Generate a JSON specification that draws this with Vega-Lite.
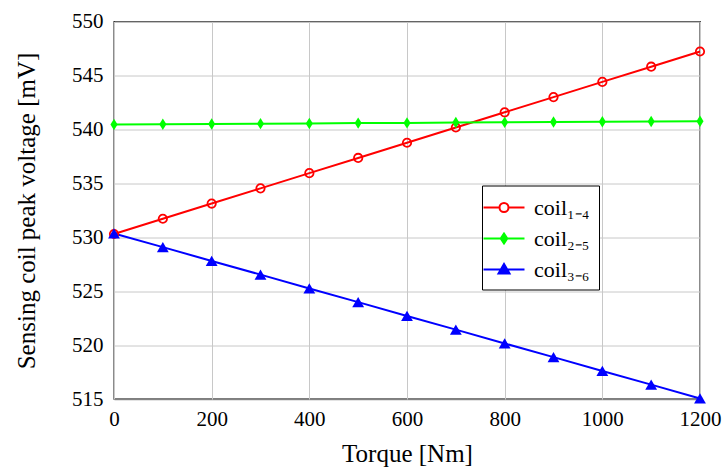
{
  "$schema": "https://vega.github.io/schema/vega-lite/v6.json",
  "width": 586,
  "height": 377.5,
  "autosize": {"type": "none"},
  "padding": {"left": 114, "top": 21.5, "right": 26, "bottom": 69},
  "background": "white",
  "config": {
    "font": "Liberation Serif",
    "view": {"stroke": "black", "strokeWidth": 1.3},
    "axis": {
      "gridColor": "#c8c8c8",
      "gridWidth": 1,
      "domain": false,
      "ticks": false,
      "labelColor": "black",
      "labelFlush": false,
      "labelOverlap": false,
      "titleFont": "Liberation Serif",
      "titleFontSize": 25,
      "titleFontWeight": "normal",
      "titleColor": "black"
    }
  },
  "data": {
    "values": [
      {"series": "coil₁₋₄", "torque": 0, "voltage": 530.3},
      {"series": "coil₁₋₄", "torque": 100, "voltage": 531.71},
      {"series": "coil₁₋₄", "torque": 200, "voltage": 533.12},
      {"series": "coil₁₋₄", "torque": 300, "voltage": 534.53},
      {"series": "coil₁₋₄", "torque": 400, "voltage": 535.94},
      {"series": "coil₁₋₄", "torque": 500, "voltage": 537.35},
      {"series": "coil₁₋₄", "torque": 600, "voltage": 538.76},
      {"series": "coil₁₋₄", "torque": 700, "voltage": 540.17},
      {"series": "coil₁₋₄", "torque": 800, "voltage": 541.58},
      {"series": "coil₁₋₄", "torque": 900, "voltage": 542.99},
      {"series": "coil₁₋₄", "torque": 1000, "voltage": 544.4},
      {"series": "coil₁₋₄", "torque": 1100, "voltage": 545.81},
      {"series": "coil₁₋₄", "torque": 1200, "voltage": 547.22},
      {"series": "coil₂₋₅", "torque": 0, "voltage": 540.45},
      {"series": "coil₂₋₅", "torque": 100, "voltage": 540.48},
      {"series": "coil₂₋₅", "torque": 200, "voltage": 540.5},
      {"series": "coil₂₋₅", "torque": 300, "voltage": 540.53},
      {"series": "coil₂₋₅", "torque": 400, "voltage": 540.55},
      {"series": "coil₂₋₅", "torque": 500, "voltage": 540.58},
      {"series": "coil₂₋₅", "torque": 600, "voltage": 540.6},
      {"series": "coil₂₋₅", "torque": 700, "voltage": 540.63},
      {"series": "coil₂₋₅", "torque": 800, "voltage": 540.65},
      {"series": "coil₂₋₅", "torque": 900, "voltage": 540.68},
      {"series": "coil₂₋₅", "torque": 1000, "voltage": 540.7},
      {"series": "coil₂₋₅", "torque": 1100, "voltage": 540.73},
      {"series": "coil₂₋₅", "torque": 1200, "voltage": 540.75},
      {"series": "coil₃₋₆", "torque": 0, "voltage": 530.35},
      {"series": "coil₃₋₆", "torque": 100, "voltage": 529.08},
      {"series": "coil₃₋₆", "torque": 200, "voltage": 527.8},
      {"series": "coil₃₋₆", "torque": 300, "voltage": 526.53},
      {"series": "coil₃₋₆", "torque": 400, "voltage": 525.25},
      {"series": "coil₃₋₆", "torque": 500, "voltage": 523.98},
      {"series": "coil₃₋₆", "torque": 600, "voltage": 522.7},
      {"series": "coil₃₋₆", "torque": 700, "voltage": 521.43},
      {"series": "coil₃₋₆", "torque": 800, "voltage": 520.15},
      {"series": "coil₃₋₆", "torque": 900, "voltage": 518.88},
      {"series": "coil₃₋₆", "torque": 1000, "voltage": 517.6},
      {"series": "coil₃₋₆", "torque": 1100, "voltage": 516.33},
      {"series": "coil₃₋₆", "torque": 1200, "voltage": 515.05}
    ]
  },
  "encoding": {
    "x": {
      "field": "torque",
      "type": "quantitative",
      "scale": {"domain": [0, 1200], "nice": false, "zero": false},
      "axis": {
        "values": [0, 200, 400, 600, 800, 1000, 1200],
        "format": "d",
        "labelFont": "Liberation Serif",
        "labelFontSize": 21,
        "labelPadding": 9,
        "title": "Torque [Nm]",
        "titleBaseline": "alphabetic",
        "titleY": 62
      }
    },
    "y": {
      "field": "voltage",
      "type": "quantitative",
      "scale": {"domain": [515, 550], "nice": false, "zero": false},
      "axis": {
        "values": [515, 520, 525, 530, 535, 540, 545, 550],
        "format": "d",
        "labelFont": "Liberation Serif",
        "labelFontSize": 21,
        "labelPadding": 11,
        "title": "Sensing coil peak voltage [mV]",
        "titleBaseline": "alphabetic",
        "titleAngle": -90,
        "titleAlign": "center",
        "titleX": -80,
        "titleY": 189
      }
    }
  },
  "layer": [
    {
      "mark": {"type": "line", "strokeWidth": 2},
      "encoding": {
        "stroke": {
          "field": "series",
          "type": "nominal",
          "scale": {"domain": ["coil₃₋₆", "coil₂₋₅", "coil₁₋₄"], "range": ["#0000ff", "#00ff00", "#ff0000"]},
          "legend": null
        }
      }
    },
    {
      "transform": [{"filter": "datum.series === 'coil₁₋₄'"}],
      "mark": {"type": "point", "shape": "circle", "size": 70, "filled": false, "color": "#ff0000", "strokeWidth": 1.8, "opacity": 1}
    },
    {
      "transform": [{"filter": "datum.series === 'coil₂₋₅'"}],
      "mark": {"type": "point", "shape": "M0,-1L0.62,0L0,1L-0.62,0Z", "size": 130, "filled": true, "color": "#00ff00", "strokeWidth": 1, "opacity": 1}
    },
    {
      "transform": [{"filter": "datum.series === 'coil₃₋₆'"}],
      "mark": {"type": "point", "shape": "triangle-up", "size": 140, "filled": true, "color": "#0000ff", "strokeWidth": 1, "opacity": 1}
    },
    {
      "transform": [{"filter": "false"}],
      "mark": {"type": "point", "filled": false, "strokeWidth": 2, "opacity": 1},
      "encoding": {
        "shape": {
          "field": "series",
          "type": "nominal",
          "scale": {
            "domain": ["coil₁₋₄", "coil₂₋₅", "coil₃₋₆"],
            "range": [
              "M-1.708,0H-0.375M0.375,0H1.708M-0.375,0A0.375,0.375 0 1,0 0.375,0A0.375,0.375 0 1,0 -0.375,0Z",
              "M-1.708,0H1.708M0,-0.417L0.275,0L0,0.417L-0.275,0Z",
              "M-1.708,0H1.708M-0.458,0.325L0,-0.458L0.458,0.325Z"
            ]
          },
          "legend": {
            "orient": "none",
            "legendX": 368,
            "legendY": 164,
            "title": null,
            "strokeColor": "black",
            "fillColor": "white",
            "padding": 9,
            "symbolSize": 576,
            "symbolStrokeWidth": 2,
            "labelFont": "Liberation Serif",
            "labelFontSize": 22,
            "labelColor": "black",
            "labelOffset": 17,
            "rowPadding": 7,
            "cornerRadius": 0
          }
        },
        "color": {
          "field": "series",
          "type": "nominal",
          "scale": {"domain": ["coil₁₋₄", "coil₂₋₅", "coil₃₋₆"], "range": ["#ff0000", "#00ff00", "#0000ff"]}
        },
        "fill": {
          "field": "series",
          "type": "nominal",
          "scale": {"domain": ["coil₁₋₄", "coil₂₋₅", "coil₃₋₆"], "range": ["white", "#00ff00", "#0000ff"]}
        }
      }
    }
  ]
}
